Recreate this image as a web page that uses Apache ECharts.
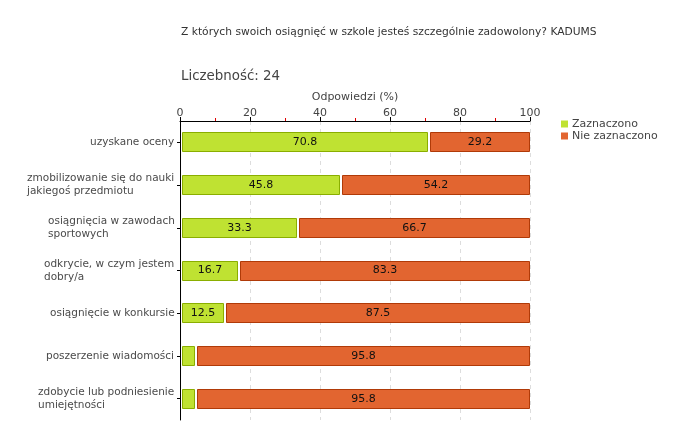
<!DOCTYPE html>
<html><head><meta charset="utf-8">
<script src="https://cdn.jsdelivr.net/npm/echarts@6/dist/echarts.min.js"></script>
<style>html,body{margin:0;padding:0;background:#fff}#c{width:680px;height:440px}</style>
</head><body><div id="c"></div>
<script>
const titleText = 'Z których swoich osiągnięć w szkole jesteś szczególnie zadowolony? KADUMS';
const countText = 'Liczebność: 24';
const axisName = 'Odpowiedzi (%)';
const categories = [
  'uzyskane oceny',
  'zmobilizowanie się do nauki\njakiegoś przedmiotu',
  'osiągnięcia w zawodach\nsportowych',
  'odkrycie, w czym jestem\ndobry/a',
  'osiągnięcie w konkursie',
  'poszerzenie wiadomości',
  'zdobycie lub podniesienie\numiejętności'
];
const seriesNames = ['Zaznaczono', 'Nie zaznaczono'];
const zaznaczono = [70.8, 45.8, 33.3, 16.7, 12.5, 4.2, 4.2];
const nieZaznaczono = [29.2, 54.2, 66.7, 83.3, 87.5, 95.8, 95.8];
const xTicks = [0, 20, 40, 60, 80, 100];

const FONT = 'DejaVu Sans';
const LABEL_SIZE = 10.5;
const colors = [
  {fill: '#bfe232', stroke: '#8aae00'},
  {fill: '#e26530', stroke: '#b03a08'}
];

// measure label lines so multi-line labels are left-aligned inside a right-aligned block
const ctx = document.createElement('canvas').getContext('2d');
ctx.font = LABEL_SIZE + 'px "' + FONT + '"';
const rich = {};
categories.forEach((c, i) => {
  const w = Math.max(...c.split('\n').map(l => ctx.measureText(l).width));
  rich['l' + i] = {width: Math.ceil(w), align: 'left', fontFamily: FONT, fontSize: LABEL_SIZE, color: '#4a4a4a', lineHeight: 13};
});

function makeData(vals, offsets) {
  return vals.map((v, i) => [i, offsets[i], v]);
}
const zeros = categories.map(() => 0);

function renderer(colorIdx) {
  return function (params, api) {
    const idx = api.value(0), start = api.value(1), val = api.value(2);
    const p0 = api.coord([start, idx]);
    const p1 = api.coord([start + val, idx]);
    const h = Math.round(api.size([0, 1])[1] * 0.47);
    const x0 = Math.round(p0[0]) + 2;
    const x1 = Math.round(p1[0]);
    const y0 = Math.round(p0[1] - h / 2);
    const children = [{
      type: 'rect',
      shape: {x: x0 + 0.5, y: y0 + 0.5, width: x1 - x0 - 1, height: h - 1},
      style: {fill: colors[colorIdx].fill, stroke: colors[colorIdx].stroke, lineWidth: 1}
    }];
    if (val >= 10) {
      children.push({
        type: 'text',
        style: {text: val.toFixed(1), x: (x0 + x1) / 2, y: p0[1], align: 'center', verticalAlign: 'middle',
          fill: '#111', font: '11px "' + FONT + '"'}
      });
    }
    return {type: 'group', children};
  };
}

const chart = echarts.init(document.getElementById('c'), null, {renderer: 'canvas'});
chart.setOption({
  animation: false,
  backgroundColor: '#fff',
  title: [
    {text: titleText, left: 176, top: 22, textStyle: {fontFamily: FONT, fontSize: 10.7, fontWeight: 'normal', color: '#333'}},
    {text: countText, left: 176, top: 65, textStyle: {fontFamily: FONT, fontSize: 13.4, fontWeight: 'normal', color: '#444'}}
  ],
  legend: {
    orient: 'vertical', left: 556, top: 113, itemWidth: 7, itemHeight: 7, itemGap: 0,
    icon: 'rect',
    textStyle: {fontFamily: FONT, fontSize: 11, color: '#444', padding: [0, 0, 0, -1], lineHeight: 12},
    data: seriesNames
  },
  grid: {left: 180, right: 150, top: 121, bottom: 20, containLabel: false},
  xAxis: {
    type: 'value', position: 'top', min: 0, max: 100, interval: 20,
    name: axisName, nameLocation: 'middle', nameGap: 17,
    nameTextStyle: {fontFamily: FONT, fontSize: 11, color: '#444'},
    axisLine: {show: true, lineStyle: {color: '#000', width: 1}},
    axisTick: {show: true, length: 4, lineStyle: {color: '#000'}},
    minorTick: {show: true, splitNumber: 2, length: 3, lineStyle: {color: '#e00000'}},
    axisLabel: {margin: 2, fontFamily: FONT, fontSize: 11, color: '#444',
      formatter: v => xTicks.includes(v) ? String(v) : ''},
    splitLine: {show: true, lineStyle: {color: '#dddddd', type: [4, 4]}}
  },
  yAxis: {
    type: 'category', inverse: true, data: categories,
    axisLine: {show: true, lineStyle: {color: '#000', width: 1}},
    axisTick: {show: true, alignWithLabel: true, length: 3, lineStyle: {color: '#000'}},
    axisLabel: {margin: 5, fontFamily: FONT, fontSize: LABEL_SIZE, color: '#4a4a4a', lineHeight: 13,
      formatter: (v, i) => '{l' + i + '|' + v + '}', rich: rich},
    splitLine: {show: false}
  },
  series: [
    {name: seriesNames[0], type: 'custom', renderItem: renderer(0),
      itemStyle: {color: colors[0].fill}, encode: {x: [1, 2], y: 0},
      data: makeData(zaznaczono, zeros)},
    {name: seriesNames[1], type: 'custom', renderItem: renderer(1),
      itemStyle: {color: colors[1].fill}, encode: {x: [1, 2], y: 0},
      data: makeData(nieZaznaczono, zaznaczono)}
  ]
});
</script></body></html>
